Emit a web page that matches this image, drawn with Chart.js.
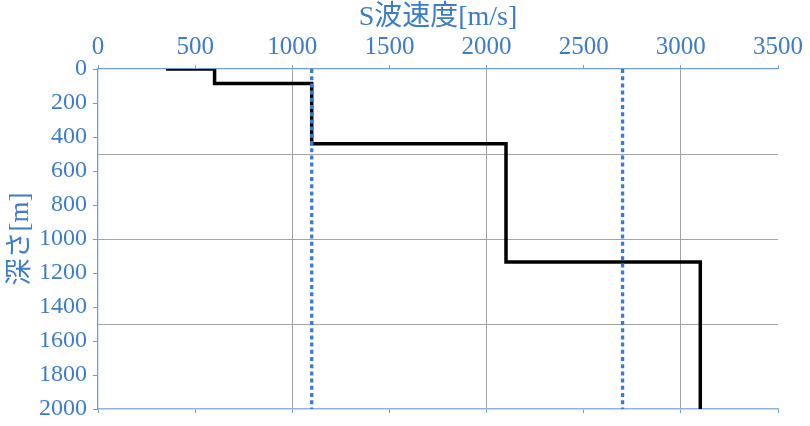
<!DOCTYPE html>
<html>
<head>
<meta charset="utf-8">
<script src="https://cdn.jsdelivr.net/npm/chart.js@4/dist/chart.umd.min.js"></script>
<style>
  html, body { margin: 0; padding: 0; background: #ffffff; }
  #wrap { width: 810px; height: 426px; }
</style>
</head>
<body>
<div id="wrap"><canvas id="c" width="810" height="426"></canvas></div>
<script>
// ---- data ----
const profileVs    = [350, 600, 600, 1100, 1100, 2100, 2100, 3100, 3100];   // m/s
const profileDepth = [0,   0,   85,  85,   440,  440,  1135, 1135, 2000];  // m
const refVs        = [1100, 2700];      // dotted reference velocities
const refDepth     = [0, 2000];
const xTicks = [0, 500, 1000, 1500, 2000, 2500, 3000, 3500];
const yTicks = [0, 200, 400, 600, 800, 1000, 1200, 1400, 1600, 1800, 2000];
const xGrid  = [1000, 2000, 3000];
const yGrid  = [500, 1000, 1500];
const xTitle = 'S波速度[m/s]';
const yTitle = '深さ[m]';

const BLUE_TXT = '#3d7cc9';
const BLUE_AX  = '#6f9edb';
const GRID     = '#a3a3a3';
const FONT     = '"Liberation Serif", "Noto Sans CJK JP", serif';

const profileData = profileVs.map((v, i) => ({ x: v, y: profileDepth[i] }));
const refSets = refVs.map(v => ({
  data: refDepth.map(d => ({ x: v, y: d })),
  borderColor: '#3a7ad6',
  borderWidth: 3.3,
  borderDash: [4, 3.2],
  pointRadius: 0,
  showLine: true,
  fill: false
}));

new Chart(document.getElementById('c'), {
  type: 'scatter',
  data: {
    datasets: [
      ...refSets,
      {
        data: profileData,
        borderColor: '#000000',
        borderWidth: 3.5,
        pointRadius: 0,
        showLine: true,
        fill: false,
        tension: 0
      }
    ]
  },
  options: {
    responsive: false,
    animation: false,
    events: [],
    layout: { padding: { left: 0, right: 32, top: 0, bottom: 0 } },
    plugins: { legend: { display: false }, tooltip: { enabled: false } },
    scales: {
      x: {
        type: 'linear', position: 'top', min: 0, max: 3500,
        afterBuildTicks: s => { s.ticks = xTicks.map(v => ({ value: v })); },
        afterFit: s => { s.height = 69; s.paddingLeft = 0; s.paddingRight = 0; },
        ticks: { color: BLUE_TXT, font: { family: FONT, size: 25 }, padding: 3, maxRotation: 0, autoSkip: false,
                 callback: v => String(v) },
        grid: {
          color: c => (c.tick && xGrid.includes(c.tick.value)) ? GRID : 'rgba(0,0,0,0)',
          tickColor: BLUE_AX, tickLength: 4, lineWidth: 1
        },
        border: { color: BLUE_AX, width: 1.3 },
        title: { display: true, text: xTitle, color: BLUE_TXT, font: { family: FONT, size: 28 }, padding: { top: 1, bottom: 0 } }
      },
      x2: {
        type: 'linear', position: 'bottom', min: 0, max: 3500,
        afterBuildTicks: s => { s.ticks = xTicks.map(v => ({ value: v })); },
        afterFit: s => { s.height = 17; s.paddingLeft = 0; s.paddingRight = 0; },
        ticks: { display: false },
        grid: { drawOnChartArea: false, tickColor: BLUE_AX, tickLength: 4 },
        border: { color: '#8fb3e3', width: 1.5 }
      },
      y: {
        type: 'linear', position: 'left', min: 0, max: 2000, reverse: true,
        afterBuildTicks: s => {
          const all = yTicks.concat(yGrid.filter(v => !yTicks.includes(v))).sort((a, b) => a - b);
          s.ticks = all.map(v => ({ value: v }));
        },
        afterFit: s => { s.width = 98; s.paddingTop = 0; s.paddingBottom = 0; },
        ticks: {
          color: BLUE_TXT, font: { family: FONT, size: 24 }, padding: 6, autoSkip: false,
          callback: v => yTicks.includes(v) ? String(v) : ''
        },
        grid: {
          color: c => (c.tick && yGrid.includes(c.tick.value)) ? GRID : 'rgba(0,0,0,0)',
          tickColor: c => (c.tick && yTicks.includes(c.tick.value)) ? BLUE_AX : 'rgba(0,0,0,0)',
          tickLength: 5, lineWidth: 1
        },
        border: { color: BLUE_AX, width: 1.3 },
        title: { display: true, text: yTitle, color: BLUE_TXT, font: { family: FONT, size: 27 }, padding: { top: 5, bottom: 0 } }
      }
    }
  }
});
</script>
</body>
</html>
